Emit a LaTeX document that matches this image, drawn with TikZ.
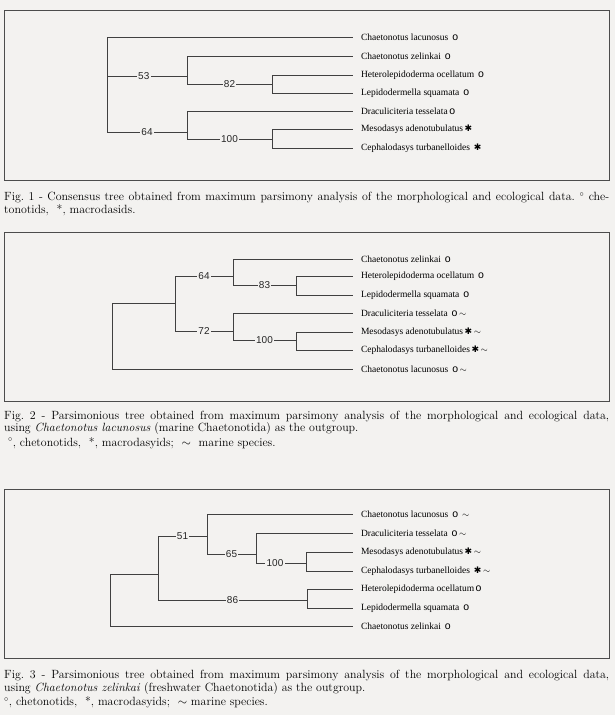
\documentclass[tikz,border=0pt]{standalone}
\usepackage{fontspec}
\newfontfamily\leaffont{Liberation Serif}
\newfontfamily\numfont{Liberation Sans}
\newfontfamily\symfont{DejaVu Sans}
\definecolor{paper}{RGB}{243,242,240}

% taxon markers
\newcommand{\chetmark}{\,{\numfont\fontsize{10.5}{10}\selectfont o}}
\newcommand{\macmark}{\,{\symfont\fontsize{9}{9}\selectfont ✱}}
\newcommand{\marmark}{\,$\sim$}

\begin{document}
\begin{tikzpicture}[
    x=1pt, y=-1pt,
    frame/.style   = {draw=black!70, line width=0.8pt},
    branch/.style  = {black!75, line width=0.6pt},
    support/.style = {fill=paper, inner sep=1.2pt, text=black!85, pos=0.75,
                      font=\numfont\fontsize{10}{10}\selectfont},
    taxon/.style   = {anchor=west, inner sep=0pt, outer xsep=8pt,
                      font=\leaffont\fontsize{9.5}{10}\selectfont},
    caption/.style = {anchor=west, inner sep=0pt,
                      font=\frenchspacing\fontsize{11.9}{12}\selectfont}
  ]
\fill[paper] (0,0) rectangle (615,715);
\useasboundingbox (0,0) rectangle (615,715);

% =========================================================
% FIG. 1 -- consensus tree
% =========================================================
\draw[frame] (4,10) rectangle (609,180);

\foreach \nm/\yy/\txt in {
    lacA/37/{Chaetonotus lacunosus \chetmark},
    zelA/56/{Chaetonotus zelinkai \chetmark},
    hetA/75/{Heterolepidoderma ocellatum \chetmark},
    lepA/93/{Lepidodermella squamata \chetmark},
    draA/111/{Draculiciteria tesselata\chetmark},
    mesA/129/{Mesodasys adenotubulatus\macmark},
    cepA/148/{Cephalodasys turbanelloides \macmark}}
  \node[taxon] (\nm) at (353,\yy) {\txt};

\coordinate (rootA) at (107,76);
\coordinate (n53)   at (187,76);
\coordinate (n82)   at (272,84);
\coordinate (n64)   at (187,132);
\coordinate (n100A) at (272,139);

\draw[branch] (rootA) |- (lacA.west);
\draw[branch] (rootA) |- node[support, pos=0.73] {53} (n53);
\draw[branch] (rootA) |- node[support] {64} (n64);
\draw[branch] (n53) |- (zelA.west);
\draw[branch] (n53) |- node[support] {82} (n82);
\draw[branch] (n82) |- (hetA.west);
\draw[branch] (n82) |- (lepA.west);
\draw[branch] (n64) |- (draA.west);
\draw[branch] (n64) |- node[support] {100} (n100A);
\draw[branch] (n100A) |- (mesA.west);
\draw[branch] (n100A) |- (cepA.west);

\node[caption] (capAa) at (4,198) {\makebox[605pt][s]{Fig. 1 - Consensus tree obtained from maximum parsimony analysis of the morphological and ecological data. $^{\circ}$ che-}};
\node[caption] (capAb) at (4,210.5) {tonotids, \ *, macrodasids.};

% =========================================================
% FIG. 2 -- outgroup C. lacunosus
% =========================================================
\draw[frame] (4,232) rectangle (609,401);

\foreach \nm/\yy/\txt in {
    zelB/259/{Chaetonotus zelinkai \chetmark},
    hetB/276/{Heterolepidoderma ocellatum \chetmark},
    lepB/295/{Lepidodermella squamata \chetmark},
    draB/313/{Draculiciteria tesselata \chetmark\marmark},
    mesB/332/{Mesodasys adenotubulatus\macmark\marmark},
    cepB/350/{Cephalodasys turbanelloides\macmark\marmark},
    lacB/369/{Chaetonotus lacunosus \chetmark\marmark}}
  \node[taxon] (\nm) at (353,\yy) {\txt};

\coordinate (rootB)  at (112,303);
\coordinate (ingrpB) at (175,303);
\coordinate (n64B)   at (233,276);
\coordinate (n83)    at (296,285);
\coordinate (n72)    at (233,331);
\coordinate (n100B)  at (296,340);

\draw[branch] (rootB) |- (ingrpB);
\draw[branch] (rootB) |- (lacB.west);
\draw[branch] (ingrpB) |- node[support] {64} (n64B);
\draw[branch] (ingrpB) |- node[support] {72} (n72);
\draw[branch] (n64B) |- (zelB.west);
\draw[branch] (n64B) |- node[support] {83} (n83);
\draw[branch] (n83) |- (hetB.west);
\draw[branch] (n83) |- (lepB.west);
\draw[branch] (n72) |- (draB.west);
\draw[branch] (n72) |- node[support] {100} (n100B);
\draw[branch] (n100B) |- (mesB.west);
\draw[branch] (n100B) |- (cepB.west);

\node[caption] (capBa) at (4,416.5) {\makebox[605pt][s]{Fig. 2 - Parsimonious tree obtained from maximum parsimony analysis of the morphological and ecological data,}};
\node[caption] (capBb) at (4,429) {using \textit{Chaetonotus lacunosus} (marine Chaetonotida) as the outgroup.};
\node[caption] (capBc) at (4,443) {\ $^{\circ}$, chetonotids, \ *, macrodasyids; \ $\sim$ \ marine species.};

% =========================================================
% FIG. 3 -- outgroup C. zelinkai
% =========================================================
\draw[frame] (4,489) rectangle (609,658);

\foreach \nm/\yy/\txt in {
    lacC/514/{Chaetonotus lacunosus \chetmark\ \marmark},
    draC/533/{Draculiciteria tesselata \chetmark\marmark},
    mesC/552/{Mesodasys adenotubulatus\macmark\marmark},
    cepC/571/{Cephalodasys turbanelloides \macmark\marmark},
    hetC/589/{Heterolepidoderma ocellatum\chetmark},
    lepC/608/{Lepidodermella squamata \chetmark},
    zelC/626/{Chaetonotus zelinkai \chetmark}}
  \node[taxon] (\nm) at (353,\yy) {\txt};

\coordinate (rootC)  at (110,574);
\coordinate (ingrpC) at (158,574);
\coordinate (n51)    at (207,536);
\coordinate (n65)    at (256,554);
\coordinate (n100C)  at (306,563);
\coordinate (n86)    at (307,600);

\draw[branch] (rootC) |- (ingrpC);
\draw[branch] (rootC) |- (zelC.west);
\draw[branch] (ingrpC) |- node[support] {51} (n51);
\draw[branch] (ingrpC) |- node[support] {86} (n86);
\draw[branch] (n51) |- (lacC.west);
\draw[branch] (n51) |- node[support] {65} (n65);
\draw[branch] (n65) |- (draC.west);
\draw[branch] (n65) |- node[support, pos=0.69] {100} (n100C);
\draw[branch] (n100C) |- (mesC.west);
\draw[branch] (n100C) |- (cepC.west);
\draw[branch] (n86) |- (hetC.west);
\draw[branch] (n86) |- (lepC.west);

\node[caption] (capCa) at (4,676) {\makebox[605pt][s]{Fig. 3 - Parsimonious tree obtained from maximum parsimony analysis of the morphological and ecological data,}};
\node[caption] (capCb) at (4,688.5) {using \textit{Chaetonotus zelinkai} (freshwater Chaetonotida) as the outgroup.};
\node[caption] (capCc) at (4,702.5) {$^{\circ}$, chetonotids, \ *, macrodasyids; \ $\sim$ marine species.};
\end{tikzpicture}
\end{document}
